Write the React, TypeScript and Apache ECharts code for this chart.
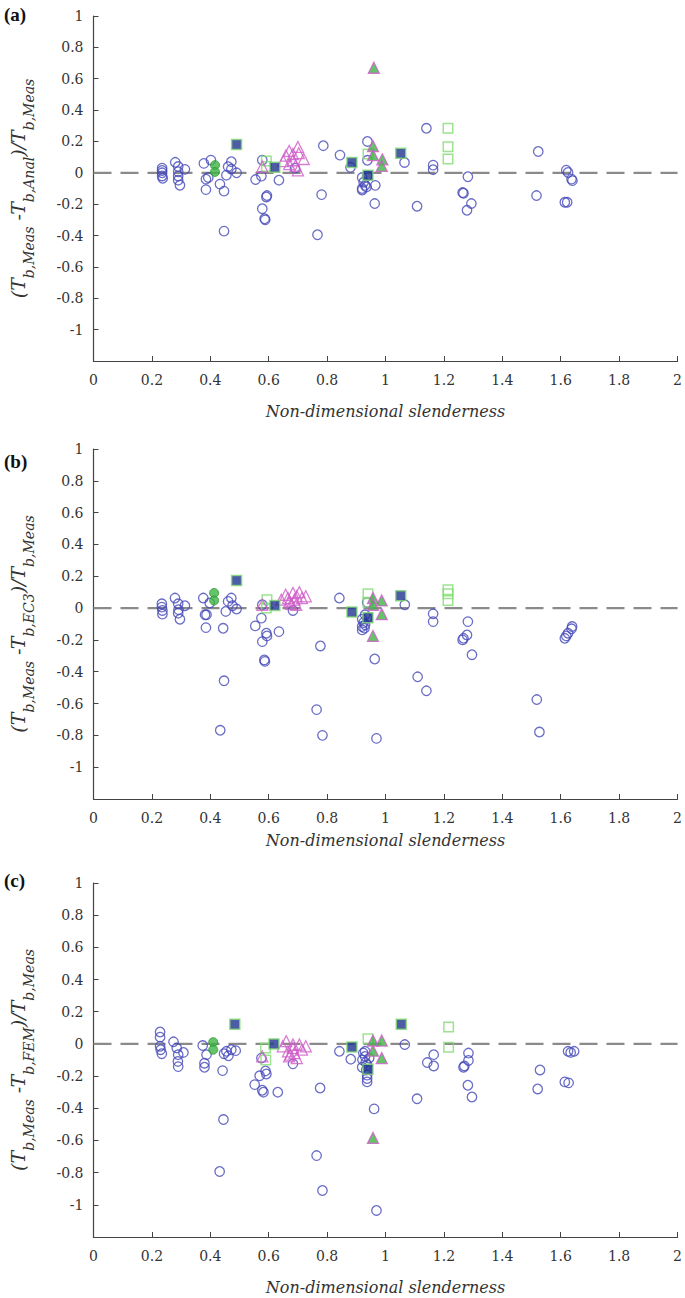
import React, { useEffect, useRef } from "react";
import * as echarts from "echarts";

// ---------- Tick labels / axes ----------
const xTicks = [0, 0.2, 0.4, 0.6, 0.8, 1, 1.2, 1.4, 1.6, 1.8, 2];
const panelLetters = ["(a)", "(b)", "(c)"];
const subTags = ["Anal", "EC3", "FEM"];
const xTitle = "Non-dimensional slenderness";
const zeroLine = [[0, 0], [2, 0]];

// ---------- Panel (a) ----------
const aBlueCircles = [
  [0.235, 0.03], [0.235, 0.015], [0.235, 0], [0.235, -0.02], [0.237, -0.035],
  [0.28, 0.067], [0.29, 0.04], [0.29, 0.007], [0.29, -0.02], [0.29, -0.047], [0.296, -0.079], [0.313, 0.022],
  [0.378, 0.06], [0.402, 0.081], [0.385, -0.04], [0.393, -0.03], [0.385, -0.107],
  [0.433, -0.072], [0.447, -0.117], [0.455, -0.015], [0.461, 0.039], [0.472, 0.071], [0.472, 0.024], [0.49, 0.0], [0.447, -0.372],
  [0.555, -0.043], [0.575, -0.021], [0.578, 0.081], [0.578, -0.229], [0.592, -0.154], [0.594, -0.145], [0.586, -0.293], [0.588, -0.3],
  [0.635, -0.047], [0.69, 0.03],
  [0.781, -0.139], [0.787, 0.173], [0.767, -0.395], [0.844, 0.113], [0.88, 0.035],
  [0.92, -0.03], [0.925, -0.06], [0.92, -0.1], [0.93, -0.08], [0.92, -0.11], [0.937, -0.02], [0.935, -0.09], [0.938, 0.08], [0.938, 0.2],
  [0.963, -0.196], [0.965, -0.08],
  [1.065, 0.066], [1.14, 0.284], [1.163, 0.049], [1.163, 0.02], [1.108, -0.213],
  [1.282, -0.025], [1.264, -0.126], [1.267, -0.13], [1.294, -0.196], [1.279, -0.239],
  [1.523, 0.136], [1.517, -0.145], [1.619, 0.017], [1.625, 0.002], [1.637, -0.04], [1.64, -0.05], [1.614, -0.188], [1.622, -0.188],
];
const aGreenCircles = [[0.416, 0.049], [0.416, 0.006]];
const aNavySquares = [[0.49, 0.18], [0.621, 0.035], [0.885, 0.066], [1.052, 0.124], [0.94, -0.015]];
const aLightSquares = [[0.592, 0.075], [0.592, 0.04], [0.94, 0.12], [1.214, 0.284], [1.214, 0.167], [1.214, 0.088]];
const aMagentaTriangles = [
  [0.578, 0.04], [0.65, 0.075], [0.659, 0.11], [0.67, 0.14], [0.683, 0.12], [0.683, 0.08], [0.692, 0.045],
  [0.7, 0.165], [0.703, 0.125], [0.72, 0.088], [0.67, 0.055], [0.7, 0.016],
];
const aGreenTriangles = [[0.957, 0.171], [0.957, 0.113], [0.989, 0.086], [0.987, 0.044], [0.96, 0.67]];

// ---------- Panel (b) ----------
const bBlueCircles = [
  [0.234, 0.027], [0.234, 0.006], [0.236, -0.015], [0.236, -0.038],
  [0.279, 0.063], [0.29, 0.027], [0.291, -0.01], [0.29, -0.032], [0.296, -0.07], [0.313, 0.015],
  [0.376, 0.063], [0.382, -0.042], [0.387, -0.042], [0.385, -0.123], [0.398, 0.032],
  [0.444, -0.127], [0.453, -0.021], [0.461, 0.042], [0.472, 0.063], [0.476, 0.015], [0.49, -0.006],
  [0.447, -0.457], [0.434, -0.768],
  [0.554, -0.112], [0.575, -0.063], [0.578, 0.021], [0.578, -0.211], [0.592, -0.158], [0.594, -0.175], [0.635, -0.148],
  [0.585, -0.326], [0.587, -0.335],
  [0.683, -0.015],
  [0.777, -0.238], [0.764, -0.638], [0.784, -0.8],
  [0.842, 0.063],
  [0.92, -0.07], [0.925, -0.091], [0.92, -0.116], [0.93, -0.105], [0.92, -0.137], [0.928, -0.126], [0.937, -0.063], [0.93, -0.042], [0.937, 0.036],
  [0.963, -0.32], [0.969, -0.819],
  [1.066, 0.021], [1.163, -0.036], [1.163, -0.085], [1.11, -0.432], [1.14, -0.52],
  [1.282, -0.085], [1.279, -0.169], [1.264, -0.2], [1.267, -0.19], [1.296, -0.293],
  [1.518, -0.575], [1.527, -0.779],
  [1.639, -0.116], [1.637, -0.13], [1.625, -0.158], [1.614, -0.19], [1.619, -0.175],
];
const bGreenCircles = [[0.413, 0.095], [0.413, 0.048]];
const bNavySquares = [[0.49, 0.173], [0.621, 0.017], [0.885, -0.025], [1.052, 0.078], [0.94, -0.06]];
const bLightSquares = [[0.594, 0.053], [0.592, 0.0], [0.94, 0.09], [0.94, 0.036], [1.214, 0.116], [1.214, 0.09], [1.214, 0.048]];
const bMagentaTriangles = [
  [0.578, 0.021], [0.643, 0.053], [0.658, 0.084], [0.666, 0.063], [0.671, 0.042], [0.683, 0.095], [0.688, 0.053],
  [0.696, 0.074], [0.705, 0.1], [0.714, 0.063], [0.727, 0.074], [0.677, 0.027], [0.694, 0.021],
];
const bGreenTriangles = [[0.957, 0.063], [0.957, 0.021], [0.987, 0.048], [0.987, -0.038], [0.957, -0.175]];

// ---------- Panel (c) ----------
const cBlueCircles = [
  [0.228, 0.074], [0.228, 0.042], [0.228, -0.015], [0.23, -0.036], [0.234, -0.061],
  [0.274, 0.013], [0.285, -0.025], [0.29, -0.067], [0.289, -0.109], [0.29, -0.141], [0.308, -0.053],
  [0.374, -0.01], [0.38, -0.12], [0.38, -0.145], [0.387, -0.067],
  [0.442, -0.166], [0.447, -0.061], [0.455, -0.046], [0.462, -0.074], [0.472, -0.036], [0.487, -0.042],
  [0.445, -0.47], [0.432, -0.793],
  [0.552, -0.253], [0.569, -0.198], [0.575, -0.088], [0.578, -0.288], [0.582, -0.3], [0.589, -0.168], [0.592, -0.187], [0.631, -0.3],
  [0.683, -0.124],
  [0.776, -0.274], [0.764, -0.694], [0.784, -0.911],
  [0.842, -0.046], [0.881, -0.095],
  [0.924, -0.057], [0.93, -0.078], [0.921, -0.099], [0.932, -0.116], [0.92, -0.145], [0.937, -0.13], [0.934, -0.162],
  [0.937, -0.194], [0.937, -0.215], [0.937, -0.236], [0.93, -0.046], [0.944, -0.088],
  [0.961, -0.404], [0.969, -1.035],
  [1.066, -0.004], [1.108, -0.341], [1.143, -0.116], [1.165, -0.067], [1.165, -0.137],
  [1.284, -0.057], [1.284, -0.103], [1.267, -0.145], [1.27, -0.137], [1.282, -0.257], [1.296, -0.33],
  [1.529, -0.162], [1.521, -0.28],
  [1.625, -0.046], [1.634, -0.053], [1.646, -0.046], [1.614, -0.236], [1.627, -0.242],
];
const cGreenCircles = [[0.41, 0.011], [0.41, -0.036]];
const cNavySquares = [[0.484, 0.122], [0.618, 0.0], [0.885, -0.019], [1.054, 0.122], [0.94, -0.158]];
const cLightSquares = [[0.589, -0.025], [0.59, -0.1], [0.94, 0.032], [1.216, 0.105], [1.216, -0.021]];
const cMagentaTriangles = [
  [0.578, -0.078], [0.648, -0.015], [0.66, 0.017], [0.666, -0.046], [0.674, -0.067], [0.683, -0.025], [0.688, -0.057],
  [0.696, -0.088], [0.705, -0.004], [0.714, -0.036], [0.727, -0.015], [0.683, -0.004], [0.67, -0.078],
];
const cGreenTriangles = [[0.957, 0.021], [0.957, -0.042], [0.987, 0.021], [0.987, -0.088], [0.957, -0.584]];

const panels = [
  [aBlueCircles, aGreenCircles, aNavySquares, aLightSquares, aMagentaTriangles, aGreenTriangles],
  [bBlueCircles, bGreenCircles, bNavySquares, bLightSquares, bMagentaTriangles, bGreenTriangles],
  [cBlueCircles, cGreenCircles, cNavySquares, cLightSquares, cMagentaTriangles, cGreenTriangles],
];

const BLUE = "#4549b8";
const LIGHTGREEN = "#82dc72";
const GREEN = "#3fb445";
const MAGENTA = "#d05cc8";
const NAVY = "#1f3590";

const gridTops = [16, 449, 883];
const gridHeights = [345, 350, 354];
const letterTops = [5, 452, 871];
const xNameGaps = [42, 33, 42];
const serif = "DejaVu Serif";

function buildOption() {
  const grids: any[] = [];
  const xAxes: any[] = [];
  const yAxes: any[] = [];
  const series: any[] = [];
  const graphics: any[] = [];
  panels.forEach((p, i) => {
    grids.push({ left: 92, width: 587, top: gridTops[i], height: gridHeights[i] });
    xAxes.push({
      type: "value", gridIndex: i, min: 0, max: 2, interval: 0.2,
      axisLine: { show: true, onZero: false, lineStyle: { color: "#444", width: 1.2 } },
      axisTick: { show: true, inside: true, length: 5, lineStyle: { color: "#444" } },
      splitLine: { show: false },
      axisLabel: { color: "#333", fontFamily: serif, fontSize: 14, margin: 12,
        formatter: (v: number) => String(Number(v.toFixed(1))) },
      name: xTitle, nameLocation: "middle", nameGap: xNameGaps[i],
      nameTextStyle: { fontFamily: serif, fontStyle: "italic", fontSize: 16, color: "#333" },
    });
    yAxes.push({
      type: "value", gridIndex: i, min: -1.2, max: 1, interval: 0.2,
      axisLine: { show: true, onZero: false, lineStyle: { color: "#444", width: 1.2 } },
      axisTick: { show: true, inside: true, length: 5, lineStyle: { color: "#444" } },
      splitLine: { show: false },
      axisLabel: { color: "#333", fontFamily: serif, fontSize: 14, margin: 10,
        formatter: (v: number) => (Math.abs(v + 1.2) < 1e-6 ? "" : String(Number(v.toFixed(1)))) },
      name: `{m|(T}{s|b,Meas}{m| -T}{s|b,${subTags[i]}}{m|)/T}{s|b,Meas}`,
      nameLocation: "middle", nameGap: 58, nameRotate: 90,
      nameTextStyle: {
        color: "#333",
        rich: {
          m: { fontFamily: serif, fontStyle: "italic", fontSize: 19, lineHeight: 36, color: "#333" },
          s: { fontFamily: serif, fontStyle: "italic", fontSize: 14, lineHeight: 16, verticalAlign: "bottom", color: "#333" },
        },
      },
    });
    series.push({
      type: "line", xAxisIndex: i, yAxisIndex: i, data: zeroLine, symbol: "none", z: 1,
      lineStyle: { color: "#8a8a8a", width: 2.2, type: [18, 9], cap: "butt" }, silent: true,
    });
    const [blue, gcirc, navy, light, mag, gtri] = p;
    series.push({ type: "scatter", xAxisIndex: i, yAxisIndex: i, data: blue, symbol: "circle", symbolSize: 9.5, z: 3,
      itemStyle: { color: "rgba(0,0,0,0)", borderColor: BLUE, borderWidth: 1.3 } });
    series.push({ type: "scatter", xAxisIndex: i, yAxisIndex: i, data: light, symbol: "rect", symbolSize: 9.5, z: 3,
      itemStyle: { color: "rgba(0,0,0,0)", borderColor: LIGHTGREEN, borderWidth: 1.5 } });
    series.push({ type: "scatter", xAxisIndex: i, yAxisIndex: i, data: mag, symbol: "triangle", symbolSize: 11, z: 3,
      itemStyle: { color: "rgba(0,0,0,0)", borderColor: MAGENTA, borderWidth: 1.3 } });
    series.push({ type: "scatter", xAxisIndex: i, yAxisIndex: i, data: gcirc, symbol: "circle", symbolSize: 9, z: 4,
      itemStyle: { color: GREEN, borderColor: "#2e9a35", borderWidth: 1 } });
    series.push({ type: "scatter", xAxisIndex: i, yAxisIndex: i, data: navy, symbol: "rect", symbolSize: 10, z: 4,
      itemStyle: { color: NAVY, borderColor: LIGHTGREEN, borderWidth: 1.5 } });
    series.push({ type: "scatter", xAxisIndex: i, yAxisIndex: i, data: gtri, symbol: "triangle", symbolSize: 11, z: 4,
      itemStyle: { color: GREEN, borderColor: MAGENTA, borderWidth: 1.3 } });
    graphics.push({
      type: "text", left: 4, top: letterTops[i],
      style: { text: panelLetters[i], font: "bold 19px 'Liberation Serif'", fill: "#111" },
    });
  });
  return {
    animation: false,
    backgroundColor: "#fff",
    grid: grids,
    xAxis: xAxes,
    yAxis: yAxes,
    series,
    graphic: graphics,
  };
}

export default function App() {
  const ref = useRef<HTMLDivElement>(null);
  useEffect(() => {
    if (!ref.current) return;
    const chart = echarts.init(ref.current, undefined, { renderer: "svg" });
    chart.setOption(buildOption() as any);
    return () => chart.dispose();
  }, []);
  return (
    <div
      ref={ref}
      style={{ position: "absolute", left: 0, top: 0, width: 685, height: 1298, background: "#fff" }}
    />
  );
}
